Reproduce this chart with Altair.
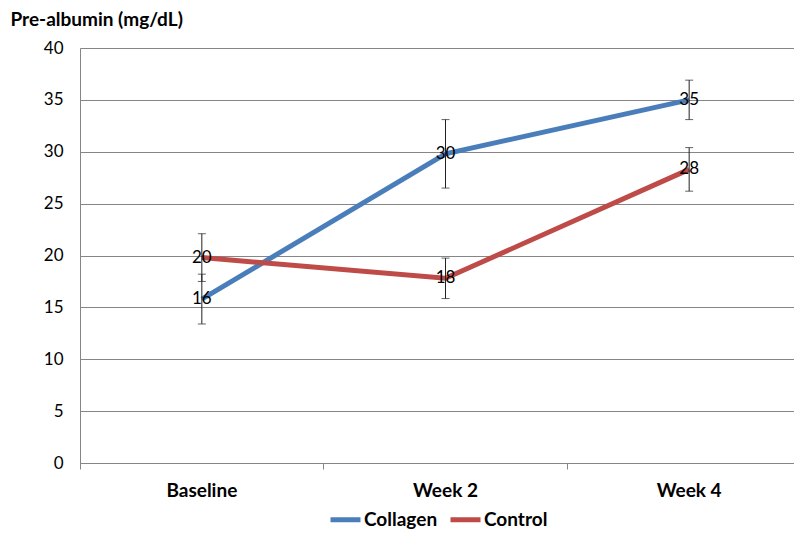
import altair as alt
import pandas as pd

categories = ["Baseline", "Week 2", "Week 4"]
series = ["Collagen", "Control"]
collagen_mean = [15.8, 29.8, 35.0]
collagen_err = [2.4, 3.3, 1.9]
control_mean = [19.8, 17.8, 28.3]
control_err = [2.3, 1.95, 2.1]
colors = ["#4A7EBB", "#BE4B48"]

rows = []
for s, means, errs in [("Collagen", collagen_mean, collagen_err), ("Control", control_mean, control_err)]:
    for c, m, e in zip(categories, means, errs):
        rows.append({"series": s, "cat": c, "mean": m, "lo": m - e, "hi": m + e, "label": str(int(round(m)))})
df = pd.DataFrame(rows)

FONT = "Lato"
xscale = alt.Scale(domain=categories, range=[0, 731], paddingInner=0, paddingOuter=0)
x_enc = alt.X("cat:N", scale=xscale, sort=categories,
              axis=alt.Axis(title=None, bandPosition=0, labelAngle=0,
                            labelFont=FONT, labelFontSize=19, labelFontWeight="bold",
                            labelColor="#000000", labelPadding=12, tickSize=6,
                            tickColor="#868686", domainColor="#868686", grid=False))
y_scale = alt.Scale(domain=[0, 40], nice=False, zero=True)
y_enc = alt.Y("mean:Q", scale=y_scale,
              axis=alt.Axis(title="Pre-albumin (mg/dL)", titleAngle=0, titleAlign="left",
                            titleBaseline="alphabetic", titleX=-70, titleY=-23,
                            titleFont=FONT, titleFontSize=19, titleFontWeight="bold",
                            titleColor="#000000",
                            values=list(range(0, 41, 5)), labelFont=FONT, labelFontSize=17,
                            labelColor="#000000", labelPadding=17, ticks=False,
                            grid=True, gridColor="#868686", gridWidth=1,
                            domainColor="#868686"))

base = alt.Chart(df)

lines = base.mark_line(strokeWidth=5, strokeCap="butt").encode(
    x=x_enc,
    y=y_enc,
    color=alt.Color("series:N", scale=alt.Scale(domain=series, range=colors),
                    legend=alt.Legend(title=None, orient="none", direction="horizontal",
                                      legendX=248, legendY=454, symbolType="stroke",
                                      symbolStrokeWidth=5, symbolSize=900,
                                      labelFont=FONT, labelFontSize=19, labelFontWeight="bold",
                                      labelColor="#000000", labelOffset=1, columnPadding=2)),
    order=alt.Order("series:N"),
)

rules = base.mark_rule(color="#222222", strokeWidth=1).encode(
    x=alt.X("cat:N", scale=xscale, sort=categories),
    y=alt.Y("lo:Q", scale=y_scale),
    y2="hi:Q",
)
caps_lo = base.mark_tick(color="#222222", thickness=1, size=8, orient="horizontal").encode(
    x=alt.X("cat:N", scale=xscale, sort=categories),
    y=alt.Y("lo:Q", scale=y_scale),
)
caps_hi = base.mark_tick(color="#222222", thickness=1, size=8, orient="horizontal").encode(
    x=alt.X("cat:N", scale=xscale, sort=categories),
    y=alt.Y("hi:Q", scale=y_scale),
)
labels = base.mark_text(font=FONT, fontSize=17, color="#000000", baseline="middle", align="center").encode(
    x=alt.X("cat:N", scale=xscale, sort=categories),
    y=alt.Y("mean:Q", scale=y_scale),
    text="label:N",
)

chart = alt.layer(lines, rules, caps_lo, caps_hi, labels).properties(
    width=714, height=415,
    autosize=alt.AutoSizeParams(type="none"),
    padding={"left": 72, "top": 40, "right": 0, "bottom": 67},
).configure_view(stroke=None).configure(background="#ffffff")

chart.save("out.html", embed_options={"renderer": "svg", "actions": False})
